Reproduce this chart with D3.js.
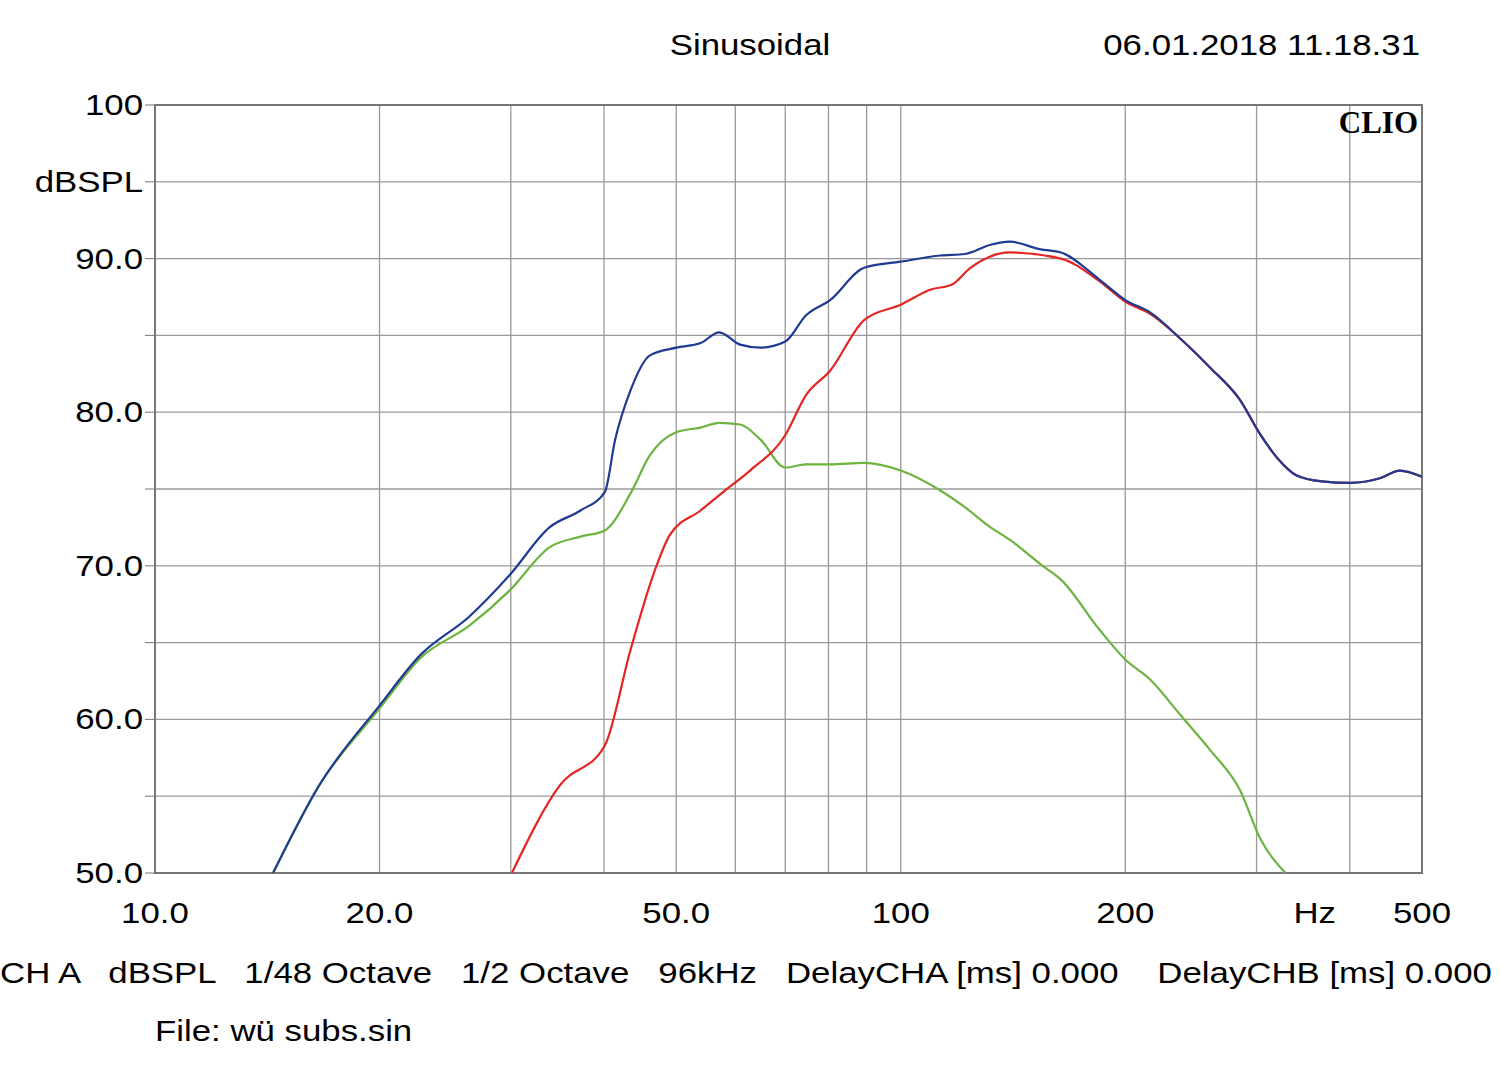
<!DOCTYPE html><html><head><meta charset="utf-8">
<script src="https://cdn.jsdelivr.net/npm/d3@7"></script>
<style>body{margin:0;background:#fff}</style></head><body><svg id="c" width="1500" height="1074"></svg>
<script>
const blueF=[14.4,16.6,20,22.7,26.4,29.9,33.8,37.2,40.1,41.4,43.4,46.1,50,53.9,57.1,60.9,64.9,70,74.6,80.4,89.3,100,113,122,132,140,154,164,185,200,216,237,260,285,303,320,339,367,401,439,467,500];
const blueV=[50,55.7,60.9,64.2,66.7,69.4,72.5,73.6,74.8,78.2,81.4,83.7,84.2,84.5,85.2,84.4,84.2,84.6,86.3,87.3,89.4,89.8,90.2,90.3,90.9,91.1,90.6,90.4,88.6,87.3,86.5,84.8,82.9,80.8,78.6,77.0,75.9,75.5,75.4,75.7,76.2,75.8];
const redF=[30.1,34.9,40.1,43.4,46.8,49,53.9,58.1,62.8,70,74.6,80.4,89.3,100,110,117,124,140,164,185,200,216,237,260,285,303,320,339,367,401,439,467,500];
const redV=[50,55.7,58.3,64.5,69.7,72,73.6,74.9,76.2,78.5,81.1,82.7,86,87,88,88.3,89.4,90.4,90.0,88.5,87.2,86.4,84.8,82.9,80.8,78.6,77.0,75.9,75.5,75.4,75.7,76.2,75.8];
const greenF=[14.4,16.6,20,22.7,26.4,29.9,33.8,37.2,40.1,43.4,46.1,50,53.9,57.1,60.9,64.9,70,74.6,80.4,89.3,100,113,122,132,140,154,164,185,200,216,237,260,285,303,328];
const greenV=[50,55.7,60.7,64.0,66.1,68.4,71.2,71.9,72.3,74.7,77.2,78.7,79.0,79.3,79.2,78.2,76.4,76.6,76.6,76.7,76.2,74.9,73.8,72.5,71.7,70.1,69.1,65.8,63.9,62.6,60.3,58,55.4,52.3,50];
const xTicks=[10,20,50,100,200,400,500], xLabels=["10.0","20.0","50.0","100","200","Hz","500"];
const yTicks=[50,60,70,80,90,95,100], yLabels=["50.0","60.0","70.0","80.0","90.0","dBSPL","100"];
const xGrid=[20,30,40,50,60,70,80,90,100,200,300,400];
const svg=d3.select("#c"), F="Liberation Sans, Arial, sans-serif";
const x=d3.scaleLog().domain([10,500]).range([155,1422]);
const y=d3.scaleLinear().domain([50,100]).range([873,105]);
const g=svg.append("g");
g.selectAll(".vg").data(xGrid).join("line").attr("x1",d=>x(d)).attr("x2",d=>x(d)).attr("y1",105).attr("y2",873).attr("stroke","#999").attr("stroke-width",1.3);
g.selectAll(".hg").data(d3.range(55,100,5)).join("line").attr("x1",155).attr("x2",1422).attr("y1",d=>y(d)).attr("y2",d=>y(d)).attr("stroke","#999").attr("stroke-width",1.3);
g.append("rect").attr("x",155).attr("y",105).attr("width",1267).attr("height",768).attr("fill","none").attr("stroke","#777").attr("stroke-width",2);
g.selectAll(".yt").data(d3.range(50,101,5)).join("line").attr("x1",145).attr("x2",155).attr("y1",d=>y(d)).attr("y2",d=>y(d)).attr("stroke","#777");
svg.append("clipPath").attr("id","cp").append("rect").attr("x",155).attr("y",105).attr("width",1267).attr("height",768);
const line=d3.line().x(d=>x(d[0])).y(d=>y(d[1])).curve(d3.curveMonotoneX);
[[greenF,greenV,"#6cb33f"],[redF,redV,"#e52521"],[blueF,blueV,"#1f3a93"]].forEach(([f,v,c])=>{
 svg.append("path").attr("clip-path","url(#cp)").attr("d",line(f.map((a,i)=>[a,v[i]]))).attr("fill","none").attr("stroke",c).attr("stroke-width",2.2);});
const T=svg.append("g").attr("font-family",F).attr("font-size",30);
T.selectAll(".yl").data(yTicks).join("text").attr("x",143).attr("y",d=>y(d)+10).attr("text-anchor","end").text((d,i)=>yLabels[i]);
T.selectAll(".xl").data(xTicks).join("text").attr("x",d=>d==400?x(d)-35:x(d)).attr("y",923).attr("text-anchor","middle").text((d,i)=>xLabels[i]);
T.append("text").attr("x",750).attr("y",55).attr("text-anchor","middle").text("Sinusoidal");
T.append("text").attr("x",1420).attr("y",55).attr("text-anchor","end").text("06.01.2018 11.18.31");
T.append("text").attr("x",0).attr("y",983).attr("xml:space","preserve").text("CH A   dBSPL   1/48 Octave   1/2 Octave   96kHz   DelayCHA [ms] 0.000    DelayCHB [ms] 0.000");
T.append("text").attr("x",155).attr("y",1041).text("File: wü subs.sin");
T.selectAll("text").each(function(){const l=this.getComputedTextLength();d3.select(this).attr("textLength",l*1.16).attr("lengthAdjust","spacingAndGlyphs");});
svg.append("text").attr("x",1418).attr("y",133).attr("text-anchor","end").attr("font-family","Liberation Serif, serif").attr("font-weight","bold").attr("font-size",31).text("CLIO");
</script></body></html>
